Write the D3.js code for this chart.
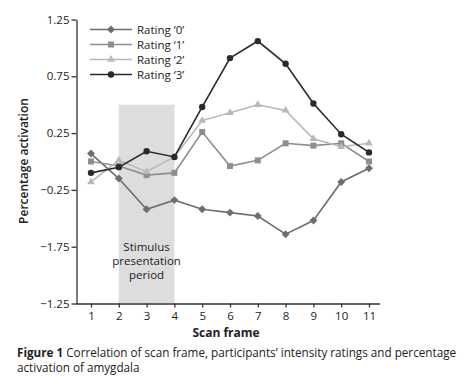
<!DOCTYPE html>
<html lang="en">
<head>
<meta charset="utf-8">
<title></title>
<style>
  body { margin: 0; background: #fff; }
  text { font-family: "Open Sans", "Noto Sans", sans-serif; fill: #222; }
</style>
</head>
<body>
<div id="container"></div>
<script src="https://cdnjs.cloudflare.com/ajax/libs/d3/7.8.5/d3.min.js"></script>
<script>
// scan frames and one array of values per rating
var frames = [1, 2, 3, 4, 5, 6, 7, 8, 9, 10, 11];
var rating0 = [0.07, -0.15, -0.42, -0.34, -0.42, -0.45, -0.48, -0.64, -0.52, -0.18, -0.06];
var rating1 = [0.00, -0.04, -0.12, -0.10, 0.26, -0.04, 0.01, 0.16, 0.14, 0.16, 0.00];
var rating2 = [-0.18, 0.01, -0.09, 0.04, 0.36, 0.43, 0.50, 0.45, 0.20, 0.13, 0.16];
var rating3 = [-0.10, -0.05, 0.09, 0.04, 0.48, 0.91, 1.06, 0.86, 0.51, 0.24, 0.08];
var seriesNames = ["Rating \u20180\u2019", "Rating \u20181\u2019", "Rating \u20182\u2019", "Rating \u20183\u2019"];
// y tick values and the labels printed on them (as in the figure)
var yTickValues = [1.25, 0.75, 0.25, -0.25, -0.75, -1.25];
var yTickLabels = ["1.25", "0.75", "0.25", "\u22120.25", "\u22121.75", "\u22121.25"];
var stimulus = [2, 4, 0.5];  // from frame, to frame, top value

var series = [
  { name: seriesNames[0], values: rating0, color: "#6e6e6e", shape: d3.symbolDiamond2, size: 40 },
  { name: seriesNames[1], values: rating1, color: "#8e8e8e", shape: d3.symbolSquare, size: 36 },
  { name: seriesNames[2], values: rating2, color: "#b8b8b8", shape: d3.symbolTriangle, size: 26 },
  { name: seriesNames[3], values: rating3, color: "#2a2a2a", shape: d3.symbolCircle, size: 32 }
];

var svg = d3.select("#container").append("svg")
  .attr("width", 474).attr("height", 382);

var x = d3.scaleLinear().domain([1, 11]).range([91, 369]);
var y = d3.scaleLinear().domain([-1.25, 1.25]).range([303.5, 19.5]);

// shaded stimulus period
svg.append("rect")
  .attr("x", x(stimulus[0])).attr("width", x(stimulus[1]) - x(stimulus[0]))
  .attr("y", y(stimulus[2])).attr("height", y(-1.25) - y(stimulus[2]))
  .attr("fill", "#dcdddc");

svg.append("text")
  .attr("x", x(3)).attr("y", 251)
  .attr("text-anchor", "middle")
  .style("font-size", "11.5px")
  .selectAll("tspan").data(["Stimulus", "presentation", "period"]).enter()
  .append("tspan").attr("x", x(3)).attr("dy", function(d, i) { return i ? 14 : 0; })
  .text(function(d) { return d; });

// axes
var yAxis = d3.axisLeft(y).tickValues(yTickValues).tickSize(5).tickSizeOuter(0)
  .tickFormat(function(d, i) { return yTickLabels[i]; });
var gy = svg.append("g").attr("transform", "translate(76.5,0)").call(yAxis);
gy.selectAll("text").style("font-size", "11.5px").attr("x", -7);

var xAxis = d3.axisBottom(x).tickValues(frames).tickSize(4).tickSizeOuter(0);
var gx = svg.append("g").attr("transform", "translate(0," + y(-1.25) + ")").call(xAxis);
gx.select(".domain").attr("d", "M" + 76 + ",0.5H" + 380);
gx.selectAll("text").style("font-size", "11.5px").attr("y", 8);

svg.selectAll(".domain, .tick line").attr("stroke", "#333").attr("stroke-width", 1.3);

// lines and markers
var line = d3.line()
  .x(function(d, i) { return x(frames[i]); })
  .y(function(d) { return y(d); });

series.forEach(function(s) {
  svg.append("path").datum(s.values)
    .attr("d", line).attr("fill", "none")
    .attr("stroke", s.color).attr("stroke-width", 1.6);
  svg.selectAll(null).data(s.values).enter().append("path")
    .attr("transform", function(d, i) { return "translate(" + x(frames[i]) + "," + y(d) + ")"; })
    .attr("d", d3.symbol().type(s.shape).size(s.size))
    .attr("fill", s.color);
});

// legend
var legend = svg.append("g");
series.forEach(function(s, i) {
  var ly = 29.5 + i * 15;
  legend.append("line").attr("x1", 90).attr("x2", 132).attr("y1", ly).attr("y2", ly)
    .attr("stroke", s.color).attr("stroke-width", 1.6);
  legend.append("path").attr("transform", "translate(111," + ly + ")")
    .attr("d", d3.symbol().type(s.shape).size(s.size)).attr("fill", s.color);
  legend.append("text").attr("x", 137).attr("y", ly + 4)
    .style("font-size", "11.5px").text(s.name);
});

// axis titles
svg.append("text")
  .attr("transform", "translate(28,161) rotate(-90)")
  .attr("text-anchor", "middle")
  .style("font-size", "12px").style("font-weight", "600")
  .text("Percentage activation");

svg.append("text")
  .attr("x", 226).attr("y", 337)
  .attr("text-anchor", "middle")
  .style("font-size", "12px").style("font-weight", "bold")
  .text("Scan frame");

// caption
var cap = svg.append("text").attr("x", 17).attr("y", 357).style("font-size", "11.7px");
cap.append("tspan").style("font-weight", "bold").text("Figure 1");
cap.append("tspan").text(" Correlation of scan frame, participants\u2019 intensity ratings and percentage");
svg.append("text").attr("x", 17).attr("y", 372).style("font-size", "11.7px")
  .text("activation of amygdala");
</script>
</body>
</html>
